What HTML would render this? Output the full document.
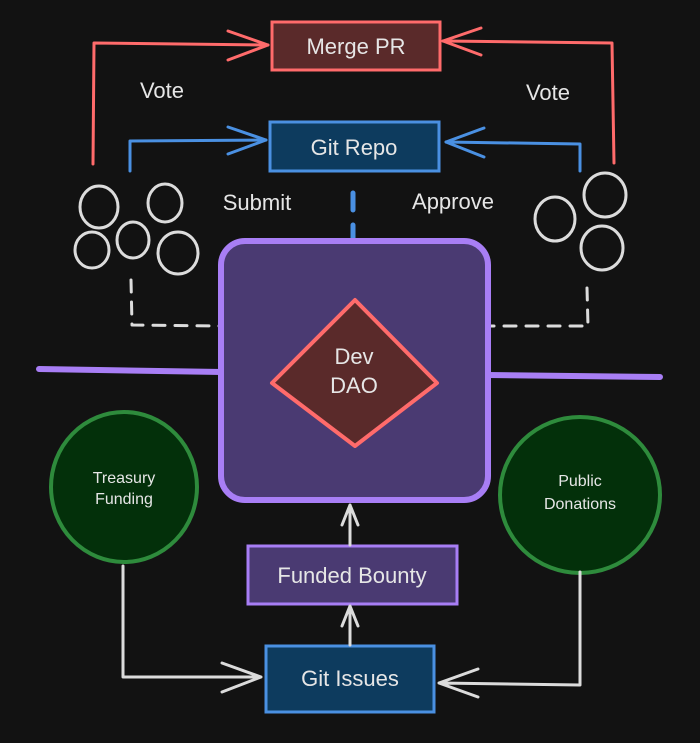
<!DOCTYPE html>
<html><head><style>
html,body{margin:0;padding:0;background:#121212;}
svg{display:block}
text{font-family:"Liberation Sans",sans-serif;fill:#e6e6e6;text-anchor:middle;}
</style></head><body>
<svg width="700" height="743" viewBox="0 0 700 743" xmlns="http://www.w3.org/2000/svg">
<rect width="700" height="743" fill="#121212"/>
<g fill="none" stroke-linecap="round" stroke-linejoin="round">
<!-- red vote lines -->
<path d="M93 164 L94 43 L268 45" stroke="#ff6b6b" stroke-width="3"/>
<path d="M228 31 L268 45 L228 60" stroke="#ff6b6b" stroke-width="3"/>
<path d="M614 163 L612 43 L443 41" stroke="#ff6b6b" stroke-width="3"/>
<path d="M481 28 L443 41 L481 55" stroke="#ff6b6b" stroke-width="3"/>
<!-- blue lines -->
<path d="M130 171 L130 141 L266 140" stroke="#4a90e2" stroke-width="3"/>
<path d="M228 127 L266 140 L228 154" stroke="#4a90e2" stroke-width="3"/>
<path d="M580 171 L580 144 L446 142" stroke="#4a90e2" stroke-width="3"/>
<path d="M484 128 L446 142 L484 157" stroke="#4a90e2" stroke-width="3"/>
<!-- blue dashed -->
<path d="M353 193 L353 210 M353 225 L353 239" stroke="#4a90e2" stroke-width="5"/>
<!-- gray dashed -->
<path d="M131 280 L132 325 L220 326" stroke="#dcdcdc" stroke-width="3" stroke-dasharray="12 10"/>
<path d="M587 288 L588 326 L488 326" stroke="#dcdcdc" stroke-width="3" stroke-dasharray="12 10"/>
<!-- horizontal purple lines -->
<path d="M39 369 L222 372" stroke="#a87ef5" stroke-width="6"/>
<path d="M488 375 L660 377" stroke="#a87ef5" stroke-width="6"/>
</g>
<!-- boxes -->
<rect x="272" y="22" width="168" height="48" fill="#5a2a2a" stroke="#ff6b6b" stroke-width="3"/>
<text x="356" y="54" font-size="22">Merge PR</text>
<rect x="270" y="122" width="169" height="49" fill="#0d3b5e" stroke="#4a90e2" stroke-width="3"/>
<text x="354" y="155" font-size="22">Git Repo</text>
<text x="162" y="98" font-size="22">Vote</text>
<text x="548" y="100" font-size="22">Vote</text>
<text x="257" y="210" font-size="22">Submit</text>
<text x="453" y="209" font-size="22">Approve</text>
<!-- circles -->
<g fill="none" stroke="#dcdcdc" stroke-width="3">
<ellipse cx="99" cy="207" rx="19" ry="21"/>
<ellipse cx="165" cy="203" rx="17" ry="19"/>
<ellipse cx="92" cy="250" rx="17" ry="18"/>
<ellipse cx="133" cy="240" rx="16" ry="18"/>
<ellipse cx="178" cy="253" rx="20" ry="21"/>
<ellipse cx="555" cy="219" rx="20" ry="22"/>
<ellipse cx="605" cy="195" rx="21" ry="22"/>
<ellipse cx="602" cy="248" rx="21" ry="22"/>
</g>
<!-- DAO -->
<rect x="221" y="241" width="267" height="259" rx="24" fill="#4a3a72" stroke="#a87ef5" stroke-width="6"/>
<path d="M355 300 L437 383 L355 446 L272 383 Z" fill="#5a2a2a" stroke="#ff6b6b" stroke-width="4" stroke-linejoin="round"/>
<text x="354" y="364" font-size="22">Dev</text>
<text x="354" y="393" font-size="22">DAO</text>
<!-- green circles -->
<ellipse cx="124" cy="487" rx="73" ry="75" fill="#03300a" stroke="#2e8b3c" stroke-width="4"/>
<text x="124" y="483" font-size="16">Treasury</text>
<text x="124" y="504" font-size="16">Funding</text>
<ellipse cx="580" cy="495" rx="80" ry="78" fill="#03300a" stroke="#2e8b3c" stroke-width="4"/>
<text x="580" y="486" font-size="16">Public</text>
<text x="580" y="509" font-size="16">Donations</text>
<!-- Funded Bounty -->
<rect x="248" y="546" width="209" height="58" fill="#4a3a72" stroke="#a87ef5" stroke-width="3"/>
<text x="352" y="583" font-size="22">Funded Bounty</text>
<rect x="266" y="646" width="168" height="66" fill="#0d3b5e" stroke="#4a90e2" stroke-width="3"/>
<text x="350" y="686" font-size="22">Git Issues</text>
<!-- white arrows -->
<g fill="none" stroke="#dcdcdc" stroke-width="3" stroke-linecap="round" stroke-linejoin="round">
<path d="M350 545 L350 505 M342 525 L350 505 L358 525"/>
<path d="M350 645 L350 606 M342 626 L350 606 L358 626"/>
<path d="M123 566 L123 677 L261 677 M222 663 L261 677 L222 692"/>
<path d="M580 572 L580 685 L439 683 M478 669 L439 683 L478 697"/>
</g>
</svg>
</body></html>
